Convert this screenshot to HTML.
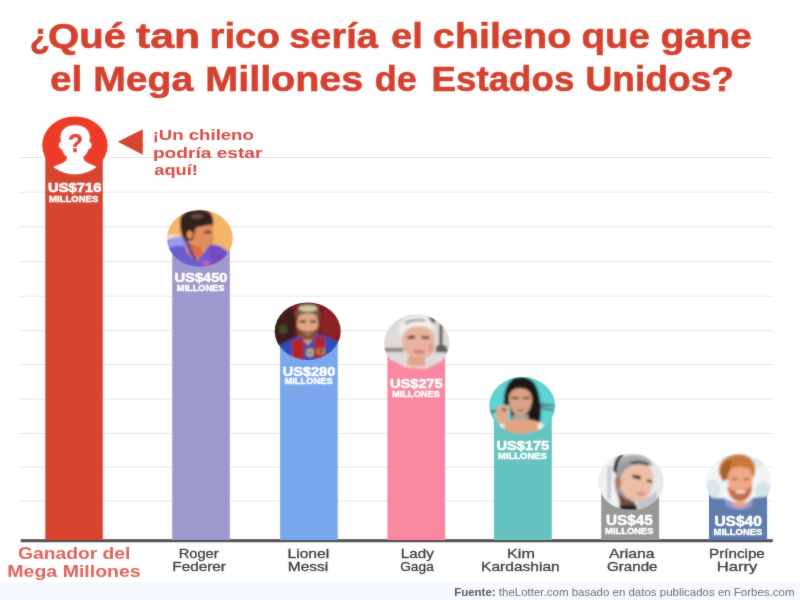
<!DOCTYPE html>
<html lang="es">
<head>
<meta charset="utf-8">
<title>¿Qué tan rico sería el chileno que gane el Mega Millones de Estados Unidos?</title>
<style>
html,body{margin:0;padding:0;background:#fff;}
body{width:800px;height:600px;overflow:hidden;position:relative;font-family:"Liberation Sans",sans-serif;}
svg{display:block;position:absolute;left:0;top:0;}
text{font-family:"Liberation Sans",sans-serif;white-space:pre;}
</style>
</head>
<body>
<svg width="800" height="600" viewBox="0 0 800 600">
<defs>
<filter id="bl" x="-200" y="-200" width="1140" height="1000" filterUnits="userSpaceOnUse"><feGaussianBlur stdDeviation="10"/></filter>
<filter id="soft" x="0" y="0" width="800" height="600" filterUnits="userSpaceOnUse"><feGaussianBlur stdDeviation="1" result="b"/><feComposite in="SourceGraphic" in2="b" operator="arithmetic" k1="0" k2="0.7" k3="0.3" k4="0"/></filter>
<clipPath id="p2"><ellipse cx="199.9" cy="238.3" rx="32.9" ry="28.4"/></clipPath>
<clipPath id="p3"><ellipse cx="307.7" cy="331.2" rx="33" ry="28.8"/></clipPath>
<clipPath id="p4"><ellipse cx="416.7" cy="343" rx="32.7" ry="28.4"/></clipPath>
<clipPath id="p5"><ellipse cx="522.2" cy="405.6" rx="32.9" ry="28.5"/></clipPath>
<clipPath id="p6"><ellipse cx="631.1" cy="481.8" rx="32.7" ry="28.4"/></clipPath>
<clipPath id="p7"><ellipse cx="738.8" cy="482.2" rx="32.8" ry="28.4"/></clipPath>
<clipPath id="cw"><ellipse cx="74.9" cy="145.3" rx="32.7" ry="28.9"/></clipPath>
</defs>
<rect width="800" height="600" fill="#fff"/>
<rect x="0" y="582.3" width="800" height="17.7" fill="#f6f9fd"/>

<!-- gridlines -->
<g stroke="#e6e6e6" stroke-width="0.9">
<line x1="19.5" x2="773" y1="157.5" y2="157.5"/>
<line x1="19.5" x2="773" y1="192.2" y2="192.2"/>
<line x1="19.5" x2="773" y1="226.8" y2="226.8"/>
<line x1="19.5" x2="773" y1="261.6" y2="261.6"/>
<line x1="19.5" x2="773" y1="296.2" y2="296.2"/>
<line x1="19.5" x2="773" y1="330.7" y2="330.7"/>
<line x1="19.5" x2="773" y1="364.6" y2="364.6"/>
<line x1="19.5" x2="773" y1="399.1" y2="399.1"/>
<line x1="19.5" x2="773" y1="433.6" y2="433.6"/>
<line x1="19.5" x2="773" y1="467.2" y2="467.2"/>
<line x1="19.5" x2="773" y1="501" y2="501"/>
</g>
<g filter="url(#soft)">
<!-- baseline -->
<rect x="20.8" y="539.2" width="752" height="3" fill="#4d4d4d"/>
<!-- bars -->
<rect x="45.3" y="145" width="57.5" height="395" fill="#d7452e"/>
<rect x="172.2" y="240" width="57.6" height="300" fill="#9d99cc"/>
<rect x="280.1" y="332" width="57.7" height="208" fill="#7aa8ed"/>
<rect x="387.4" y="344" width="57.8" height="196" fill="#f988a0"/>
<rect x="493.9" y="407" width="57.9" height="133" fill="#66c4c0"/>
<rect x="601.2" y="483" width="57.9" height="57" fill="#989898"/>
<rect x="709" y="483" width="58.1" height="57" fill="#5e7cae"/>
<!-- winner icon -->
<ellipse cx="74.9" cy="145.3" rx="32.7" ry="28.9" fill="#ec3b25"/>
<g clip-path="url(#cw)">
<path fill="#fff" d="M75.2 125.2c-8.6 0-14.6 4.6-14.6 12.4c0 1.6 .2 3 .6 4.3c-1.900 .3-2.600 2-2.200 4.200c.4 2 1.500 3.200 3.200 3.300c.8 3.100 2.600 5.600 4.700 7.200c.2 1.500 .1 2.600-.6 3.600c-2.500 3-8.500 4.600-12.800 6.800l-3 10h49.400l-3-10c-4.300-2.200-10.300-3.800-12.800-6.800c-.7-1-.8-2.100-.6-3.600c2.100-1.600 3.900-4.100 4.700-7.200c1.700-.1 2.800-1.300 3.200-3.300c.4-2.200-.3-3.900-2.200-4.200c.4-1.300 .6-2.700 .6-4.300c0-7.800-6-12.400-14.600-12.400z"/>
</g>
<!-- arrow -->
<polygon points="117.8,141.8 142.8,129.2 142.8,154.8" fill="#d7452e"/>
<!-- photos -->
<g clip-path="url(#p2)"><g transform="translate(160 205) scale(0.1084)">
<g filter="url(#bl)">
<rect x="-100" y="-100" width="940" height="800" fill="#f5b66a"/>
<ellipse cx="120" cy="300" rx="70" ry="25" fill="#f6e6d8"/>
<path d="M185 150 C185 55 300 28 400 42 C485 55 505 130 485 200 L440 195 L350 235 L320 325 L235 335 C198 285 180 220 185 150 Z" fill="#33231f"/>
<ellipse cx="340" cy="105" rx="60" ry="22" fill="#6a4c3e"/>
<path d="M330 210 L470 180 C495 230 500 300 490 340 C470 400 430 420 380 410 L300 340 Z" fill="#e08e5c"/>
<ellipse cx="440" cy="250" rx="35" ry="14" fill="#6a3a2a"/>
<ellipse cx="275" cy="275" rx="28" ry="38" fill="#e8925c"/>
<path d="M235 320 L380 400 L400 440 L330 520 L260 450 Z" fill="#e06a38"/>
<path d="M60 330 C110 300 170 290 215 300 L250 440 L330 530 L410 430 L470 360 L560 380 L640 440 L640 700 L60 700 Z" fill="#6a5cd2"/>
<path d="M70 340 C120 300 170 295 210 305 L230 380 C170 370 110 380 75 400 Z" fill="#9a9cec"/>
<path d="M430 400 L520 370 L610 430 L600 520 L470 560 Z" fill="#7548c4"/>
<ellipse cx="425" cy="532" rx="35" ry="14" fill="#e860b0"/>
<path d="M225 330 L255 325 L340 510 L320 530 Z" fill="#4a3ab0"/>
</g>
</g></g>
<g clip-path="url(#p3)"><g transform="translate(268 298) scale(0.1084)">
<g filter="url(#bl)">
<rect x="-100" y="-100" width="940" height="800" fill="#7a1d22"/>
<ellipse cx="80" cy="300" rx="175" ry="340" fill="#3e1e1a"/>
<ellipse cx="140" cy="290" rx="40" ry="42" fill="#454a26"/>
<ellipse cx="580" cy="230" rx="90" ry="150" fill="#8c2226"/>
<ellipse cx="366" cy="238" rx="97" ry="128" fill="#e2a886"/>
<path d="M258 200 C246 100 298 52 368 52 C442 52 492 100 476 200 C456 158 424 140 368 140 C310 140 278 158 258 200 Z" fill="#6e5a42"/>
<ellipse cx="368" cy="96" rx="88" ry="30" fill="#cfc5a8"/>
<path d="M292 208 L348 206 L348 228 L294 230 Z" fill="#4a3028"/>
<path d="M388 206 L444 208 L442 230 L388 228 Z" fill="#4a3028"/>
<path d="M278 270 C300 302 332 312 368 306 C408 312 440 302 458 270 C462 342 432 402 368 404 C304 402 272 342 278 270 Z" fill="#8a5036"/>
<ellipse cx="368" cy="332" rx="30" ry="10" fill="#c98270"/>
<path d="M310 385 L430 385 L440 440 L300 440 Z" fill="#d69878"/>
<path d="M90 450 C160 400 230 370 290 350 L370 440 L450 330 C520 350 600 380 660 410 L680 700 L80 700 Z" fill="#2a4db6"/>
<path d="M215 400 L300 370 L340 430 L330 570 L225 560 Z" fill="#b4202c"/>
<path d="M425 380 L470 345 L525 370 L525 540 L430 560 Z" fill="#b4202c"/>
<ellipse cx="388" cy="505" rx="34" ry="38" fill="#d2c060"/>
<ellipse cx="388" cy="505" rx="16" ry="18" fill="#5a6aa0"/>
<rect x="455" y="465" width="68" height="52" fill="#c8a030"/>
<rect x="470" y="475" width="38" height="32" fill="#8a1a3a"/>
</g>
</g></g>
<g clip-path="url(#p4)"><g transform="translate(377 310) scale(0.1084)">
<g filter="url(#bl)">
<rect x="-100" y="-100" width="940" height="800" fill="#dedcd9"/>
<rect x="60" y="348" width="185" height="40" fill="#8e8a82"/>
<rect x="480" y="60" width="60" height="60" fill="#6a6660"/>
<rect x="576" y="130" width="28" height="190" fill="#4e4a46"/>
<path d="M540 390 L545 340 C560 310 620 310 640 340 L660 390 Z" fill="#5e5a54"/>
<path d="M205 210 C185 110 280 48 380 52 C475 52 528 110 518 190 L475 165 C420 135 330 145 275 195 L235 265 Z" fill="#f1efeb"/>
<path d="M250 110 C300 80 400 70 450 90 L440 110 C390 95 310 105 270 135 Z" fill="#a8a49c"/>
<path d="M232 250 C245 175 325 145 400 150 C475 155 532 205 532 290 C532 375 478 458 390 462 C305 462 225 375 232 250 Z" fill="#e9b29c"/>
<path d="M280 243 L350 233 L350 264 L285 270 Z" fill="#5a423a"/>
<path d="M410 238 L485 245 L480 270 L412 264 Z" fill="#5a423a"/>
<ellipse cx="385" cy="385" rx="55" ry="17" fill="#cf6f80"/>
<ellipse cx="500" cy="350" rx="25" ry="50" fill="#d8a090"/>
<path d="M290 430 L440 440 L450 520 L270 520 Z" fill="#dfa68e"/>
<path d="M245 480 C300 530 400 550 460 500 L455 520 C400 570 300 550 240 500 Z" fill="#f0e6d6"/>
<path d="M70 435 L170 480 L260 525 L460 540 L560 490 L660 435 L660 700 L70 700 Z" fill="#f988a0"/>
</g>
</g></g>
<g clip-path="url(#p5)"><g transform="translate(483 373) scale(0.1084)">
<g filter="url(#bl)">
<rect x="-100" y="-100" width="940" height="800" fill="#5ed2d2"/>
<path d="M60 350 L180 330 L180 345 L70 372 Z" fill="#4a5a58"/>
<path d="M520 280 L660 295 L660 310 L520 300 Z" fill="#4a5a58"/>
<path d="M530 310 L660 340 L655 355 L530 330 Z" fill="#5a6a66"/>
<path d="M345 35 C250 35 205 120 195 220 L190 290 L250 300 L260 420 L440 440 L520 460 C545 400 535 300 520 220 C505 110 450 35 345 35 Z" fill="#1a1314"/>
<path d="M238 230 C243 160 298 138 345 142 C397 138 448 170 453 240 C453 315 408 398 345 402 C285 398 236 315 238 230 Z" fill="#d9a384"/>
<rect x="262" y="222" width="66" height="18" fill="#4a3028"/>
<rect x="365" y="222" width="66" height="18" fill="#4a3028"/>
<ellipse cx="345" cy="345" rx="36" ry="13" fill="#b87868"/>
<path d="M125 335 C140 295 200 285 235 310 C250 335 235 380 225 420 L200 465 L135 450 C118 420 115 365 125 335 Z" fill="#e0a98a"/>
<ellipse cx="195" cy="340" rx="18" ry="14" fill="#4a3a36"/>
<path d="M160 470 C220 430 300 420 350 425 C420 420 500 440 560 470 L540 540 L340 570 L170 530 Z" fill="#e2a47e"/>
<rect x="272" y="385" width="148" height="40" fill="#a4a6a0"/>
<path d="M150 470 L195 465 L200 510 L160 520 Z" fill="#f0ebe0"/>
<path d="M505 460 L560 465 L555 530 L510 540 Z" fill="#f0ebe0"/>
<path d="M90 480 L170 520 L340 572 L530 535 L650 470 L650 700 L90 700 Z" fill="#66c4c0"/>
</g>
</g></g>
<g clip-path="url(#p6)"><g transform="translate(591 450) scale(0.1084)">
<g filter="url(#bl)">
<rect x="-100" y="-100" width="940" height="800" fill="#e8e8ec"/>
<path d="M230 200 C230 90 320 35 420 45 C500 50 560 90 570 150 L400 130 L300 200 L260 300 Z" fill="#aaaaae"/>
<path d="M330 130 C380 90 470 90 540 130 L520 150 C470 120 400 120 350 160 Z" fill="#4a4446"/>
<path d="M90 300 C90 180 140 90 220 70 L250 200 L240 330 L250 520 L170 520 C120 480 90 400 90 300 Z" fill="#f2f2f5"/>
<path d="M150 150 L190 140 L180 480 L150 440 Z" fill="#c9c9d0"/>
<ellipse cx="330" cy="300" rx="110" ry="190" fill="#9a9aa0"/>
<path d="M292 38 C240 50 205 110 205 200 L240 215 C238 140 258 80 300 58 Z" fill="#211d1f"/>
<path d="M300 200 C340 140 420 120 500 140 C560 160 580 210 570 290 C560 380 520 460 450 475 C380 480 300 430 270 350 C260 300 270 240 300 200 Z" fill="#ecbea6"/>
<ellipse cx="250" cy="300" rx="30" ry="55" fill="#b07a60"/>
<path d="M380 225 L460 240 L455 275 L385 255 Z" fill="#3e2624"/>
<path d="M515 268 L570 285 L565 305 L515 292 Z" fill="#4e3230"/>
<ellipse cx="465" cy="402" rx="40" ry="18" fill="#d88c84"/>
<path d="M245 380 C290 440 350 470 410 480 L400 520 L270 520 Z" fill="#7a4c38"/>
<path d="M260 510 L420 505 L430 560 L270 560 Z" fill="#2a2426"/>
<path d="M430 470 C500 460 570 420 600 380 L620 470 L560 540 L440 550 Z" fill="#c2c2ca"/>
</g>
</g></g>
<g clip-path="url(#p7)"><g transform="translate(699 450) scale(0.1084)">
<g filter="url(#bl)">
<rect x="-100" y="-100" width="940" height="800" fill="#f1f5f5"/>
<ellipse cx="130" cy="360" rx="70" ry="90" fill="#dbe7e6"/>
<ellipse cx="590" cy="380" rx="70" ry="90" fill="#d8e5e8"/>
<ellipse cx="540" cy="120" rx="60" ry="50" fill="#dfe9ea"/>
<path d="M190 230 C160 130 240 40 370 40 C470 40 540 110 515 230 L490 260 L470 180 L300 170 L270 270 L220 290 Z" fill="#c97a3a"/>
<path d="M200 200 C200 150 240 100 300 90 L290 180 L260 260 L220 280 Z" fill="#a85e2a"/>
<path d="M265 250 C270 180 320 150 380 155 C450 155 495 190 495 260 C500 340 460 440 380 450 C310 445 265 350 265 250 Z" fill="#f1a686"/>
<path d="M260 330 C290 370 330 380 375 380 C420 380 470 360 490 320 C495 400 450 475 375 475 C310 475 265 410 260 330 Z" fill="#c66e40"/>
<ellipse cx="385" cy="388" rx="48" ry="13" fill="#f4e6dc"/>
<rect x="300" y="262" width="55" height="14" fill="#8a5a48"/>
<rect x="410" y="262" width="55" height="14" fill="#8a5a48"/>
<path d="M90 440 L230 445 L300 500 L450 500 L500 440 L650 430 L650 700 L90 700 Z" fill="#5e7cae"/>
<path d="M240 450 L300 470 L380 530 L450 480 L490 450 L490 520 L380 560 L250 520 Z" fill="#9a9acc"/>
<path d="M300 480 L450 480 L430 520 L380 530 L320 515 Z" fill="#e6a688"/>
</g>
</g></g>
<text x="68.1" y="151.8" font-size="25.5" font-weight="bold" fill="#e2362c" stroke="#e2362c" stroke-width="0.5" textLength="15" lengthAdjust="spacingAndGlyphs">?</text>
<text font-size="35.5" font-weight="bold" fill="#d5402e" stroke="#d5402e" stroke-width="0.6"><tspan x="29.63" y="47.5" textLength="20.24" lengthAdjust="spacingAndGlyphs">¿</tspan><tspan x="48.07" y="47.5" textLength="78.12" lengthAdjust="spacingAndGlyphs">Qué</tspan> <tspan x="136.0" y="47.5" textLength="64.21" lengthAdjust="spacingAndGlyphs">tan</tspan> <tspan x="209.54" y="47.5" textLength="70.36" lengthAdjust="spacingAndGlyphs">rico</tspan> <tspan x="289.23" y="47.5" textLength="88.62" lengthAdjust="spacingAndGlyphs">sería</tspan> <tspan x="390.93" y="47.5" textLength="31.8" lengthAdjust="spacingAndGlyphs">el</tspan> <tspan x="432.89" y="47.5" textLength="138.54" lengthAdjust="spacingAndGlyphs">chileno</tspan> <tspan x="581.41" y="47.5" textLength="68.51" lengthAdjust="spacingAndGlyphs">que</tspan> <tspan x="660.4" y="47.5" textLength="91.55" lengthAdjust="spacingAndGlyphs">gane</tspan></text>
<text font-size="35.5" font-weight="bold" fill="#d5402e" stroke="#d5402e" stroke-width="0.6"><tspan x="49.91" y="91" textLength="32.35" lengthAdjust="spacingAndGlyphs">el</tspan> <tspan x="93.3" y="91" textLength="99.93" lengthAdjust="spacingAndGlyphs">Mega</tspan> <tspan x="205.27" y="91" textLength="158.07" lengthAdjust="spacingAndGlyphs">Millones</tspan> <tspan x="374.69" y="91" textLength="41.96" lengthAdjust="spacingAndGlyphs">de</tspan> <tspan x="431.63" y="91" textLength="142.71" lengthAdjust="spacingAndGlyphs">Estados</tspan> <tspan x="585.41" y="91" textLength="148.67" lengthAdjust="spacingAndGlyphs">Unidos?</tspan></text>
<text font-size="14.2" font-weight="bold" fill="#d64c42"><tspan x="152.69" y="140" textLength="101.14" lengthAdjust="spacingAndGlyphs">¡Un chileno</tspan> <tspan x="152.95" y="157.5" textLength="109.54" lengthAdjust="spacingAndGlyphs">podría estar</tspan> <tspan x="154.3" y="174.8" textLength="43.65" lengthAdjust="spacingAndGlyphs">aquí!</tspan></text>
<text font-size="13.2" font-weight="bold" fill="#fff" stroke="#fff" stroke-width="0.5"><tspan x="48.0" y="192" textLength="53.35" lengthAdjust="spacingAndGlyphs">US$716</tspan> <tspan x="49.0" y="201.5" textLength="49.31" lengthAdjust="spacingAndGlyphs" font-size="8.5" font-weight="bold" fill="#fff" stroke="#fff" stroke-width="0.4">MILLONES</tspan></text>
<text font-size="13.2" font-weight="bold" fill="#fff" stroke="#fff" stroke-width="0.5"><tspan x="174.5" y="282.2" textLength="53.05" lengthAdjust="spacingAndGlyphs">US$450</tspan> <tspan x="176.8" y="291.2" textLength="47.62" lengthAdjust="spacingAndGlyphs" font-size="8.5" font-weight="bold" fill="#fff" stroke="#fff" stroke-width="0.4">MILLONES</tspan></text>
<text font-size="13.2" font-weight="bold" fill="#fff" stroke="#fff" stroke-width="0.5"><tspan x="282.8" y="375.5" textLength="52.44" lengthAdjust="spacingAndGlyphs">US$280</tspan> <tspan x="284.5" y="384.3" textLength="48.21" lengthAdjust="spacingAndGlyphs" font-size="8.5" font-weight="bold" fill="#fff" stroke="#fff" stroke-width="0.4">MILLONES</tspan></text>
<text font-size="13.2" font-weight="bold" fill="#fff" stroke="#fff" stroke-width="0.5"><tspan x="390.0" y="387.8" textLength="52.74" lengthAdjust="spacingAndGlyphs">US$275</tspan> <tspan x="392.0" y="397" textLength="47.91" lengthAdjust="spacingAndGlyphs" font-size="8.5" font-weight="bold" fill="#fff" stroke="#fff" stroke-width="0.4">MILLONES</tspan></text>
<text font-size="13.2" font-weight="bold" fill="#fff" stroke="#fff" stroke-width="0.5"><tspan x="496.5" y="449.8" textLength="52.74" lengthAdjust="spacingAndGlyphs">US$175</tspan> <tspan x="498.0" y="459" textLength="48.91" lengthAdjust="spacingAndGlyphs" font-size="8.5" font-weight="bold" fill="#fff" stroke="#fff" stroke-width="0.4">MILLONES</tspan></text>
<text font-size="14" font-weight="bold" fill="#fff" stroke="#fff" stroke-width="0.5"><tspan x="606.1" y="525" textLength="46.7" lengthAdjust="spacingAndGlyphs">US$45</tspan> <tspan x="605.1" y="534" textLength="48.51" lengthAdjust="spacingAndGlyphs" font-size="8.5" font-weight="bold" fill="#fff" stroke="#fff" stroke-width="0.4">MILLONES</tspan></text>
<text font-size="14" font-weight="bold" fill="#fff" stroke="#fff" stroke-width="0.5"><tspan x="714.4" y="525.6" textLength="47.39" lengthAdjust="spacingAndGlyphs">US$40</tspan> <tspan x="713.6" y="535.3" textLength="48.71" lengthAdjust="spacingAndGlyphs" font-size="8.5" font-weight="bold" fill="#fff" stroke="#fff" stroke-width="0.4">MILLONES</tspan></text>
<text font-size="17" font-weight="bold" fill="#e0625b"><tspan x="18.0" y="559.4" textLength="112.35" lengthAdjust="spacingAndGlyphs">Ganador del</tspan> <tspan x="7.35" y="577" textLength="133.36" lengthAdjust="spacingAndGlyphs">Mega Millones</tspan></text>
<text font-size="12.9" font-weight="normal" fill="#3d3d3d" stroke="#3d3d3d" stroke-width="0.3"><tspan x="178.66" y="558.1" textLength="39.96" lengthAdjust="spacingAndGlyphs">Roger</tspan> <tspan x="172.31" y="570.6" textLength="53.66" lengthAdjust="spacingAndGlyphs">Federer</tspan></text>
<text font-size="12.9" font-weight="normal" fill="#3d3d3d" stroke="#3d3d3d" stroke-width="0.3"><tspan x="287.49" y="558.1" textLength="41.7" lengthAdjust="spacingAndGlyphs">Lionel</tspan> <tspan x="287.8" y="570.6" textLength="40.51" lengthAdjust="spacingAndGlyphs">Messi</tspan></text>
<text font-size="12.9" font-weight="normal" fill="#3d3d3d" stroke="#3d3d3d" stroke-width="0.3"><tspan x="400.82" y="558.1" textLength="32.92" lengthAdjust="spacingAndGlyphs">Lady</tspan> <tspan x="400.2" y="570.6" textLength="33.62" lengthAdjust="spacingAndGlyphs">Gaga</tspan></text>
<text font-size="12.9" font-weight="normal" fill="#3d3d3d" stroke="#3d3d3d" stroke-width="0.3"><tspan x="507.05" y="558.1" textLength="27.81" lengthAdjust="spacingAndGlyphs">Kim</tspan> <tspan x="481.09" y="570.6" textLength="78.67" lengthAdjust="spacingAndGlyphs">Kardashian</tspan></text>
<text font-size="12.9" font-weight="normal" fill="#3d3d3d" stroke="#3d3d3d" stroke-width="0.3"><tspan x="608.9" y="558.1" textLength="45.73" lengthAdjust="spacingAndGlyphs">Ariana</tspan> <tspan x="607.0" y="570.6" textLength="50.5" lengthAdjust="spacingAndGlyphs">Grande</tspan></text>
<text font-size="12.9" font-weight="normal" fill="#3d3d3d" stroke="#3d3d3d" stroke-width="0.3"><tspan x="709.02" y="558.1" textLength="55.83" lengthAdjust="spacingAndGlyphs">Príncipe</tspan> <tspan x="716.71" y="570.6" textLength="40.66" lengthAdjust="spacingAndGlyphs">Harry</tspan></text>
<text x="454.2" y="595.5" font-size="10" fill="#6e6e6e" textLength="340.3" lengthAdjust="spacingAndGlyphs"><tspan font-weight="bold" fill="#5a5a5a">Fuente:</tspan> theLotter.com basado en datos publicados en Forbes.com</text>
</g>
</svg>
</body>
</html>
